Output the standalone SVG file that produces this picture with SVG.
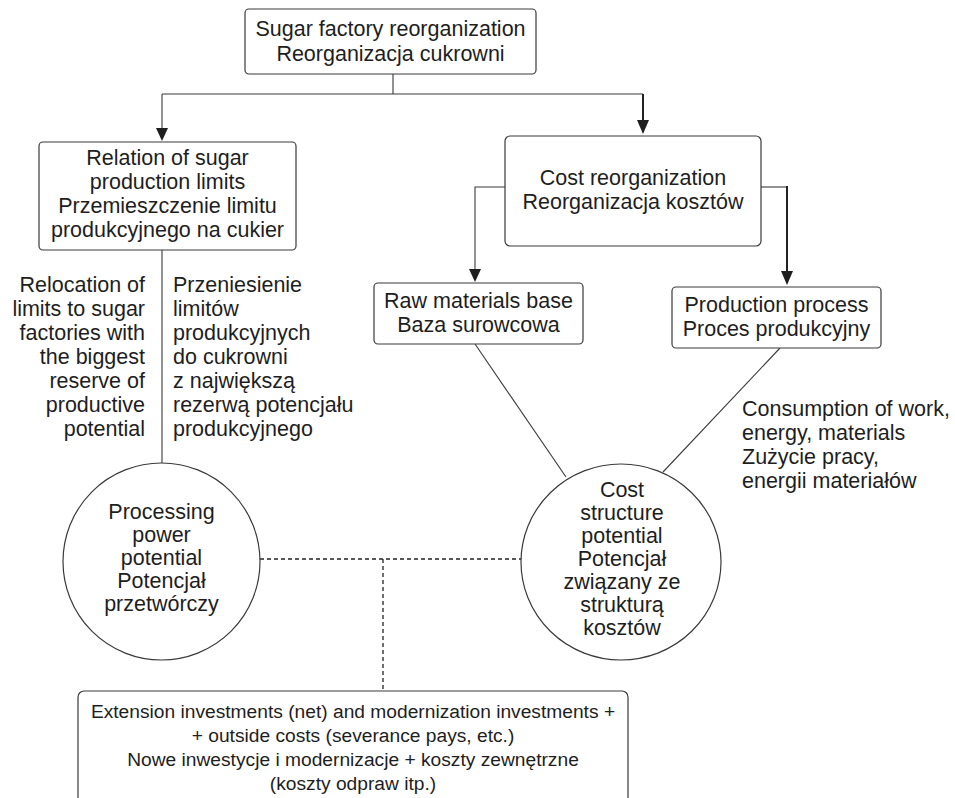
<svg xmlns="http://www.w3.org/2000/svg" width="955" height="798" viewBox="0 0 955 798">
<defs>
<style>
text{font-family:"Liberation Sans",Arial,sans-serif;font-size:21.5px;fill:#1e1e1e}
.c{text-anchor:middle}
.r{text-anchor:end}
.sm{font-size:19.2px}
.box{fill:#fff;stroke:#3a3a3a;stroke-width:1.2}
.ln{fill:none;stroke:#3a3a3a;stroke-width:1.1}
.thk{fill:none;stroke:#222;stroke-width:2}
.dash{fill:none;stroke:#222;stroke-width:1.3;stroke-dasharray:4 3}
.ah{fill:#1e1e1e}
</style>
</defs>
<g id="connectors">
<path class="ln" d="M393,74 V94 M162,94 H643"/>
<path class="ln" d="M162,94 V129"/>
<path class="ah" d="M156,128 L168,128 L162,141 Z"/>
<path class="thk" d="M643,94 V120"/>
<path class="ah" d="M637,120 L649,120 L643,134 Z"/>
<path class="ln" d="M505,187 H475 V270"/>
<path class="ah" d="M469,269 L481,269 L475,282 Z"/>
<path class="ln" d="M761,187 H787"/>
<path class="thk" d="M787,186 V272"/>
<path class="ah" d="M781,271 L793,271 L787,285 Z"/>
<path class="ln" d="M162,250 V463"/>
<path class="ln" d="M475,344 L566,477"/>
<path class="ln" d="M780,348 L663,472"/>
<path class="dash" d="M260,559 H521 M383,559 V691"/>
</g>
<g id="top">
<rect class="box" x="245" y="9" width="291" height="65" rx="4"/>
<text class="c" x="390.5" y="36">Sugar factory reorganization</text>
<text class="c" x="390.5" y="61">Reorganizacja cukrowni</text>
</g>
<g id="relation">
<rect class="box" x="39" y="142" width="257" height="108" rx="4"/>
<text class="c" x="167.5" y="165">Relation of sugar</text>
<text class="c" x="167.5" y="189">production limits</text>
<text class="c" x="167.5" y="213">Przemieszczenie limitu</text>
<text class="c" x="167.5" y="237">produkcyjnego na cukier</text>
</g>
<g id="relocation-en">
<text class="r" x="145" y="292">Relocation of</text>
<text class="r" x="145" y="316">limits to sugar</text>
<text class="r" x="145" y="340">factories with</text>
<text class="r" x="145" y="364">the biggest</text>
<text class="r" x="145" y="388">reserve of</text>
<text class="r" x="145" y="412">productive</text>
<text class="r" x="145" y="436">potential</text>
</g>
<g id="relocation-pl">
<text x="173" y="292">Przeniesienie</text>
<text x="173" y="316">limitów</text>
<text x="173" y="340">produkcyjnych</text>
<text x="173" y="364">do cukrowni</text>
<text x="173" y="388">z największą</text>
<text x="173" y="412">rezerwą potencjału</text>
<text x="173" y="436">produkcyjnego</text>
</g>
<g id="cost">
<rect class="box" x="505" y="136" width="256" height="110" rx="5"/>
<text class="c" x="633" y="185">Cost reorganization</text>
<text class="c" x="633" y="209">Reorganizacja kosztów</text>
</g>
<g id="raw">
<rect class="box" x="374" y="283" width="209" height="61" rx="4"/>
<text class="c" x="478.5" y="308">Raw materials base</text>
<text class="c" x="478.5" y="332">Baza surowcowa</text>
</g>
<g id="production">
<rect class="box" x="672" y="287" width="209" height="61" rx="4"/>
<text class="c" x="776.5" y="312">Production process</text>
<text class="c" x="776.5" y="336">Proces produkcyjny</text>
</g>
<g id="consumption">
<text x="742" y="416">Consumption of work,</text>
<text x="742" y="440">energy, materials</text>
<text x="742" y="464">Zużycie pracy,</text>
<text x="742" y="488">energii materiałów</text>
</g>
<g id="processing">
<ellipse class="box" cx="161.5" cy="561.5" rx="98.5" ry="98.5"/>
<text class="c" x="161.5" y="519">Processing</text>
<text class="c" x="161.5" y="542">power</text>
<text class="c" x="161.5" y="565">potential</text>
<text class="c" x="161.5" y="588">Potencjał</text>
<text class="c" x="161.5" y="611">przetwórczy</text>
</g>
<g id="coststructure">
<ellipse class="box" cx="621" cy="562" rx="100" ry="98"/>
<text class="c" x="622" y="497">Cost</text>
<text class="c" x="622" y="520">structure</text>
<text class="c" x="622" y="543">potential</text>
<text class="c" x="622" y="566">Potencjał</text>
<text class="c" x="622" y="589">związany ze</text>
<text class="c" x="622" y="612">strukturą</text>
<text class="c" x="622" y="635">kosztów</text>
</g>
<g id="investments">
<rect class="box" x="78" y="691" width="550" height="120" rx="6"/>
<text class="c sm" x="353" y="718">Extension investments (net) and modernization investments +</text>
<text class="c sm" x="353" y="742">+ outside costs (severance pays, etc.)</text>
<text class="c sm" x="353" y="766">Nowe inwestycje i modernizacje + koszty zewnętrzne</text>
<text class="c sm" x="353" y="790">(koszty odpraw itp.)</text>
</g>
</svg>
